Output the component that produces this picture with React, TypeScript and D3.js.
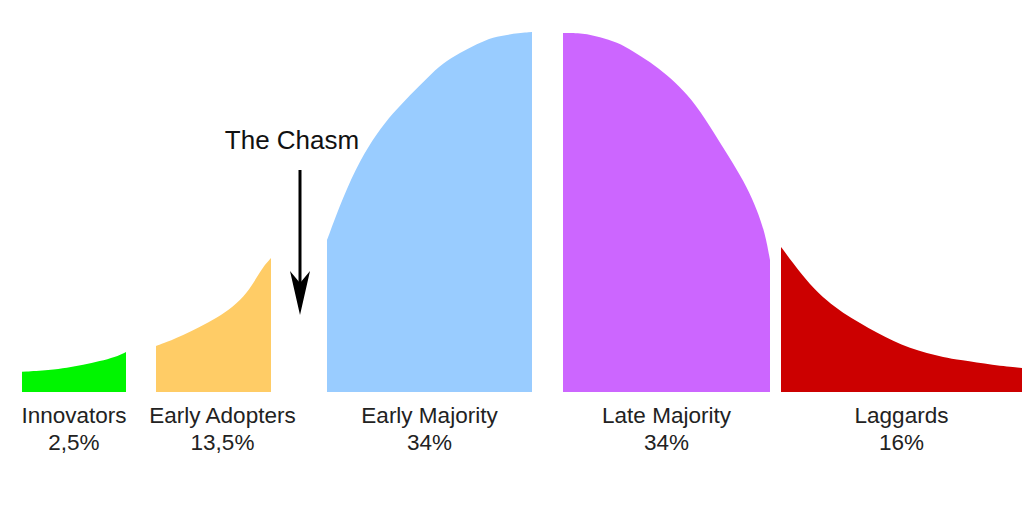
import React from "react";
import * as d3 from "d3";

// Category labels and shares
const categories = ["Innovators", "Early Adopters", "Early Majority", "Late Majority", "Laggards"];
const shares = ["2,5%", "13,5%", "34%", "34%", "16%"];
const colors = ["#00f500", "#ffcc66", "#99ccff", "#cc66ff", "#cc0000"];

// Curve samples per segment: [position, height] (position 0..1000 along the axis, height 0..100 of the peak)
const innovators: [number, number][] = [
  [0, 5.6], [28, 6.1], [45, 6.7], [61, 7.5], [78, 8.6], [93, 9.7], [104, 11.1],
];
const earlyAdopters: [number, number][] = [
  [134, 12.8], [145, 13.9], [161, 15.8], [178, 18.1], [195, 20.6], [211, 23.6], [225, 27.5], [235, 31.9], [241, 34.7], [249, 37.2],
];
const earlyMajority: [number, number][] = [
  [305, 42.2], [321, 54.2], [338, 64.4], [355, 71.9], [371, 77.5], [388, 82.5], [405, 87.2], [421, 91.4], [438, 94.2], [455, 96.7], [471, 98.6], [488, 99.4], [510, 100],
];
const lateMajority: [number, number][] = [
  [541, 99.7], [561, 99.7], [578, 98.6], [595, 97.2], [611, 94.7], [628, 91.7], [645, 88.1], [661, 83.9], [678, 78.3], [698, 69.2], [711, 63.6], [725, 56.9], [735, 50.6], [743, 44.2], [748, 36.7],
];
const laggards: [number, number][] = [
  [759, 40.3], [771, 35.8], [788, 29.7], [805, 25.3], [821, 21.9], [838, 19.2], [855, 16.4], [871, 14.2], [888, 12.2], [905, 10.8], [921, 9.7], [938, 8.9], [971, 7.5], [1000, 6.7],
];
const segments = [innovators, earlyAdopters, earlyMajority, lateMajority, laggards];

const chasmLabel = "The Chasm";

export default function App() {
  const W = 1024;
  const H = 512;
  const x = d3.scaleLinear().domain([0, 1000]).range([22, 1022]);
  const y = d3.scaleLinear().domain([0, 100]).range([392, 32]);
  const area = d3
    .area<[number, number]>()
    .x((d) => x(d[0]))
    .y0(y(0))
    .y1((d) => y(d[1]))
    .curve(d3.curveBasis);

  const font = "'Liberation Sans', Arial, Helvetica, sans-serif";
  const arrowX = 300;

  return (
    <svg
      width={W}
      height={H}
      viewBox={`0 0 ${W} ${H}`}
      style={{ position: "absolute", left: 0, top: 0, background: "#fff" }}
    >
      <rect x={0} y={0} width={W} height={H} fill="#fff" />
      {segments.map((seg, i) => {
        const cx = (x(seg[0][0]) + x(seg[seg.length - 1][0])) / 2 + (i === 1 ? 9 : 0);
        return (
          <g key={categories[i]}>
            <path d={area(seg) || ""} fill={colors[i]} />
            <text
              x={cx}
              y={423}
              textAnchor="middle"
              fontFamily={font}
              fontSize={22.5}
              fill="#222"
            >
              {categories[i]}
            </text>
            <text
              x={cx}
              y={450}
              textAnchor="middle"
              fontFamily={font}
              fontSize={22.5}
              fill="#222"
            >
              {shares[i]}
            </text>
          </g>
        );
      })}
      <text
        x={292}
        y={149}
        textAnchor="middle"
        fontFamily={font}
        fontSize={26}
        fill="#111"
      >
        {chasmLabel}
      </text>
      <line x1={arrowX} y1={170} x2={arrowX} y2={290} stroke="#000" strokeWidth={3} />
      <path
        d={`M${arrowX},315 L${arrowX - 10},271 L${arrowX},283 L${arrowX + 10},271 Z`}
        fill="#000"
      />
    </svg>
  );
}
